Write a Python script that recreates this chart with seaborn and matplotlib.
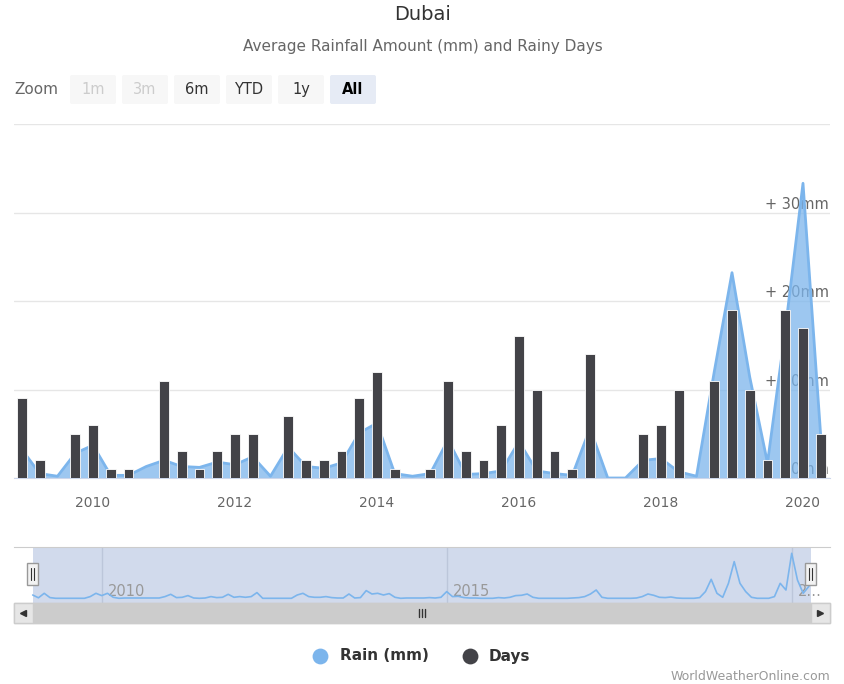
import numpy as np
import pandas as pd
import seaborn as sns
import matplotlib.pyplot as plt
from matplotlib.patches import FancyBboxPatch, Rectangle

W, H = 845, 684

# quarterly values shown in the main chart (Jan, Apr, Jul, Oct)
quarters = pd.date_range("2009-01-01", "2020-04-01", freq="QS")
rain_mm = [3.2, 0.5, 0.2, 2.8,
           3.7, 0.3, 0.3, 1.3,
           2.0, 1.3, 1.2, 1.8,
           1.5, 2.4, 0.2, 3.5,
           1.3, 1.1, 1.7, 5.1,
           6.2, 0.5, 0.2, 0.5,
           4.3, 0.4, 0.5, 0.8,
           4.1, 0.8, 0.5, 0.3,
           5.6, 0.0, 0.0, 2.0,
           2.2, 0.7, 0.2, 12.0,
           23.2, 11.4, 1.7, 16.7,
           33.3, 4.7]
rainy_days = [9, 2, 0, 5,
              6, 1, 1, 0,
              11, 3, 1, 3,
              5, 5, 0, 7,
              2, 2, 3, 9,
              12, 1, 0, 1,
              11, 3, 2, 6,
              16, 10, 3, 1,
              14, 0, 0, 5,
              6, 10, 0, 11,
              19, 10, 2, 19,
              17, 5]

# monthly rain in the navigator (relative scale)
months = pd.date_range("2009-01-01", "2020-04-01", freq="MS")
nav_rain = [3.3, 0.5, 5, 0.7, 0, 0, 0, 0, 0, 0, 1.7, 5,
            2.7, 5, 1, 0, 0.3, 0.3, 0.3, 0.3, 0.3, 0.3, 0.3, 1.7,
            4, 0.7, 1, 2.7, 0.3, 0, 0.3, 1.7, 0.7, 1, 4, 1,
            1.7, 1, 1.7, 5.7, 0, 0, 0, 0, 0, 0, 3.3, 5,
            1.7, 1, 1, 1.7, 0.7, 0.3, 0.3, 4.3, 0.3, 0.7, 7.7, 4.3,
            5, 3.3, 4.7, 1, 0, 0.3, 0.3, 0.3, 0.3, 0.7, 0.3, 1,
            6.7, 1.7, 2, 0.7, 0.3, 0.3, 0, 0, 0, 0.7, 0.3, 1,
            2.7, 3, 4.3, 1, 0, 0, 0, 0, 0, 0, 0.3, 0.7,
            1.7, 4.3, 8.3, 1, 0, 0, 0, 0, 0, 0.3, 1.7, 4.3,
            3, 1, 0.7, 1.3, 0.3, 0, 0, 0, 0.7, 6.7, 19, 5,
            1, 15, 36.7, 15, 6.7, 1, 0, 0, 0, 1.7, 15, 8.3,
            45, 18.3, 5, 12]

year_ticks = [2010, 2012, 2014, 2016, 2018, 2020]
rain_ticks = [0, 10, 20, 30]
zoom_buttons = ["1m", "3m", "6m", "YTD", "1y", "All"]

RAIN = "#7cb5ec"
DAYS = "#434348"

df = pd.DataFrame({"t": quarters.year + (quarters.month - 1) / 12,
                   "rain": rain_mm, "days": rainy_days})
nav = pd.DataFrame({"t": months.year + (months.month - 1) / 12, "rain": nav_rain})

sns.set_style("white")
plt.rcParams['font.family'] = ['DejaVu Sans']

fig = plt.figure(figsize=(W / 100, H / 100), dpi=100)

def px_box(x0, y0, x1, y1):
    return [x0 / W, 1 - y1 / H, (x1 - x0) / W, (y1 - y0) / H]

# main chart
ax = fig.add_axes(px_box(14, 124, 830, 478))
ax.fill_between(df["t"], df["rain"], color=RAIN, alpha=0.75, lw=0, zorder=2)
sns.lineplot(data=df, x="t", y="rain", color=RAIN, lw=2, ax=ax, zorder=2.5)
sns.barplot(data=df, x="t", y="days", native_scale=True, width=0.56,
            color=DAYS, saturation=1, edgecolor="white", linewidth=0.6,
            ax=ax, zorder=3)
ax.set_xlim(2010 - 79 / 71, 2020 + 27 / 71)
ax.set_ylim(0, 40)
ax.set_yticks([0, 10, 20, 30, 40])
ax.set_yticklabels([])
ax.tick_params(axis="y", length=0)
ax.grid(axis="y", color="#e6e6e6", lw=1)
ax.grid(axis="x", visible=False)
ax.set_axisbelow(True)
ax.set_xticks(year_ticks)
ax.set_xticklabels([str(y) for y in year_ticks])
ax.tick_params(axis="x", length=10, width=1, color="#ccd6eb",
               labelcolor="#666666", labelsize=10, pad=3)
ax.set_xlabel("")
ax.set_ylabel("")
sns.despine(ax=ax, left=True)
ax.spines["bottom"].set_color("#ccd6eb")
for v in rain_ticks:
    lab = "0mm" if v == 0 else f"+ {v}mm"
    ax.annotate(lab, xy=(0.999, v), xycoords=("axes fraction", "data"),
                xytext=(0, 5.8), textcoords="offset points", ha="right",
                va="center", fontsize=10.5, color="#666666", zorder=1)

# navigator
nx = fig.add_axes(px_box(14, 547, 830, 603))
nx.set_xlim(2009 - 18.7 / 69, 2009 + 797.3 / 69)
nx.set_ylim(-4.7, 51.3)
nx.axvspan(2009.004, 2020.28, color="#d1daec", lw=0, zorder=0)
for yv in [2010, 2015, 2020]:
    nx.axvline(yv, color="#bcc6da", lw=1, zorder=1)
sns.lineplot(data=nav, x="t", y="rain", color=RAIN, lw=1.2, ax=nx, zorder=2)
for yv, lab in [(2010, "2010"), (2015, "2015"), (2020, "2\u2026")]:
    nx.text(yv + 6 / 69, 6.6, lab, ha="left", va="center", fontsize=10.5,
            color="#999999", zorder=1.5)
nx.set_xticks([])
nx.set_yticks([])
nx.set_xlabel("")
nx.set_ylabel("")
for s in ["left", "right", "bottom"]:
    nx.spines[s].set_visible(False)
nx.spines["top"].set_color("#cccccc")

# overlay in pixel coordinates: titles, buttons, scrollbar, legend
ov = fig.add_axes([0, 0, 1, 1], zorder=5)
ov.set_xlim(0, W)
ov.set_ylim(H, 0)
ov.axis("off")

ov.text(422.5, 14, "Dubai", ha="center", va="center", fontsize=14, color="#333333")
ov.text(422.5, 46, "Average Rainfall Amount (mm) and Rainy Days", ha="center",
        va="center", fontsize=11, color="#666666")

ov.text(14, 90, "Zoom", ha="left", va="center", fontsize=11, color="#666666")
for i, b in enumerate(zoom_buttons):
    x0 = 70 + 52 * i
    sel = b == "All"
    dis = b in ("1m", "3m")
    ov.add_patch(FancyBboxPatch((x0, 75), 46, 29, boxstyle="round,pad=0,rounding_size=2",
                                fc="#e6ebf5" if sel else "#f7f7f7", ec="none"))
    ov.text(x0 + 23, 89.5, b, ha="center", va="center", fontsize=10.5,
            color="#cccccc" if dis else ("#000000" if sel else "#333333"),
            fontweight="bold" if sel else "normal")

# navigator handles
for hx in [33, 811]:
    ov.add_patch(Rectangle((hx - 5.5, 563), 11, 22, fc="#f2f2f2", ec="#999999", lw=1))
    for dx in [-1.5, 1.5]:
        ov.plot([hx + dx, hx + dx], [568, 580], color="#333333", lw=0.8)

# scrollbar
ov.add_patch(Rectangle((14, 603), 816, 20, fc="#f2f2f2", ec="#cccccc", lw=1))
ov.add_patch(Rectangle((33, 603), 778, 20, fc="#cccccc", ec="#cccccc", lw=1))
ov.add_patch(Rectangle((14, 603), 19, 20, fc="#e6e6e6", ec="#cccccc", lw=1))
ov.add_patch(Rectangle((811, 603), 19, 20, fc="#e6e6e6", ec="#cccccc", lw=1))
ov.plot([23.5], [613], marker="<", ms=4, color="#333333")
ov.plot([820.5], [613], marker=">", ms=4, color="#333333")
for dx in [-3, 0, 3]:
    ov.plot([422 + dx, 422 + dx], [609, 617], color="#333333", lw=1)

# legend
ov.scatter([320], [656], s=130, color=RAIN, lw=0)
ov.text(340, 656, "Rain (mm)", ha="left", va="center", fontsize=11,
        fontweight="bold", color="#333333")
ov.scatter([470], [656], s=130, color=DAYS, lw=0)
ov.text(489, 656, "Days", ha="left", va="center", fontsize=11,
        fontweight="bold", color="#333333")

ov.text(830, 677, "WorldWeatherOnline.com", ha="right", va="center",
        fontsize=9, color="#999999")

fig.savefig("out.png", dpi=100)
